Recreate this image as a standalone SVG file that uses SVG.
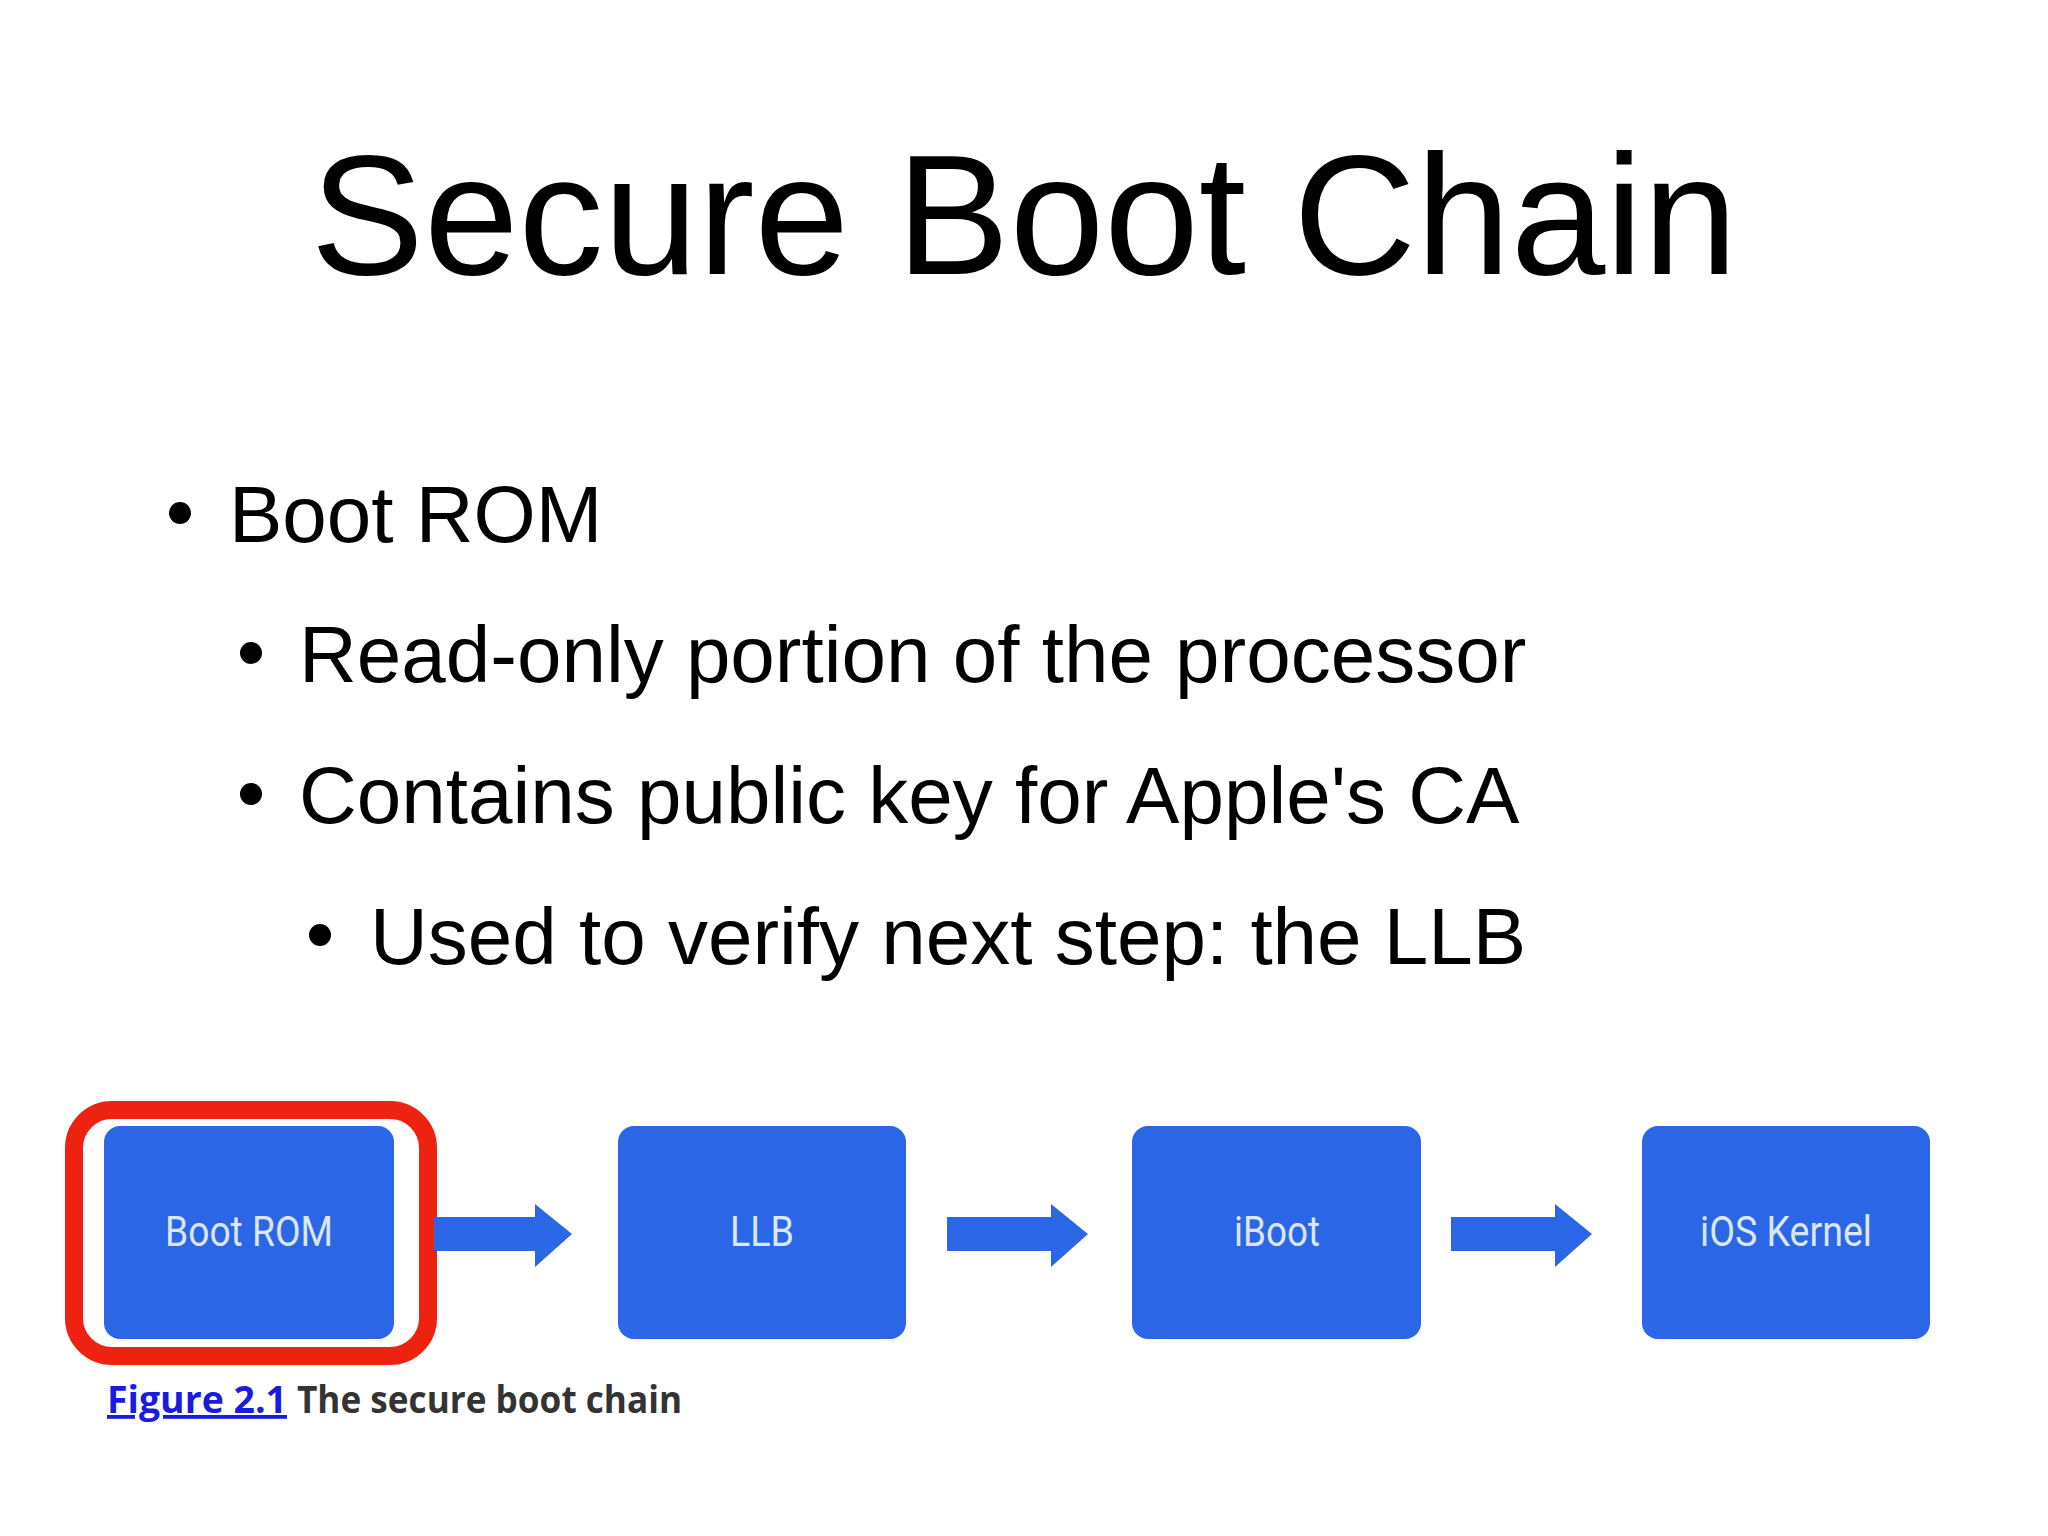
<svg xmlns="http://www.w3.org/2000/svg" width="2048" height="1536" viewBox="0 0 2048 1536">
<style>
.b{font-family:"Liberation Sans",Arial,sans-serif;font-size:80px;fill:#000}
.box{fill:#2a66e6}
.lbl{font-family:Roboto,"Liberation Sans",sans-serif;font-size:42px;fill:#dce6fb;text-anchor:middle}
.arr{fill:#2a66e6}
</style>
<rect width="2048" height="1536" fill="#fff"/>
<text x="1024" y="274" text-anchor="middle" font-family="Liberation Sans,Arial,sans-serif" font-size="170" fill="#000">Secure Boot Chain</text>
<circle cx="180" cy="513" r="11"/><text class="b" x="229" y="542">Boot ROM</text>
<circle cx="251" cy="653" r="11"/><text class="b" x="299" y="682">Read-only portion of the processor</text>
<circle cx="251" cy="794" r="11"/><text class="b" x="299" y="823">Contains public key for Apple's CA</text>
<circle cx="320" cy="935" r="11"/><text class="b" x="370" y="964">Used to verify next step: the LLB</text>
<g id="n1"><rect x="74" y="1110" width="354" height="246" rx="38" fill="none" stroke="#ee2211" stroke-width="18"/><rect class="box" x="104" y="1126" width="290" height="213" rx="16"/><text class="lbl" x="249" y="1246" textLength="168" lengthAdjust="spacingAndGlyphs">Boot ROM</text></g>
<g id="n2"><rect class="box" x="618" y="1126" width="288" height="213" rx="16"/><text class="lbl" x="762" y="1246" textLength="64" lengthAdjust="spacingAndGlyphs">LLB</text></g>
<g id="n3"><rect class="box" x="1132" y="1126" width="289" height="213" rx="16"/><text class="lbl" x="1277" y="1246" textLength="86" lengthAdjust="spacingAndGlyphs">iBoot</text></g>
<g id="n4"><rect class="box" x="1642" y="1126" width="288" height="213" rx="16"/><text class="lbl" x="1786" y="1246" textLength="172" lengthAdjust="spacingAndGlyphs">iOS Kernel</text></g>
<g id="connectors">
<path class="arr" d="M434 1217H535V1204L572 1234L535 1267V1251H434Z"/>
<path class="arr" d="M947 1217H1051V1204L1088 1234L1051 1267V1251H947Z"/>
<path class="arr" d="M1451 1217H1555V1204L1592 1234L1555 1267V1251H1451Z"/>
</g>
<text x="107" y="1413" font-family="Open Sans,sans-serif" font-weight="bold" font-size="38"><tspan fill="#1a1ae0" text-decoration="underline" textLength="180" lengthAdjust="spacingAndGlyphs">Figure 2.1</tspan><tspan fill="#333" dx="10" textLength="385" lengthAdjust="spacingAndGlyphs">The secure boot chain</tspan></text>
</svg>
